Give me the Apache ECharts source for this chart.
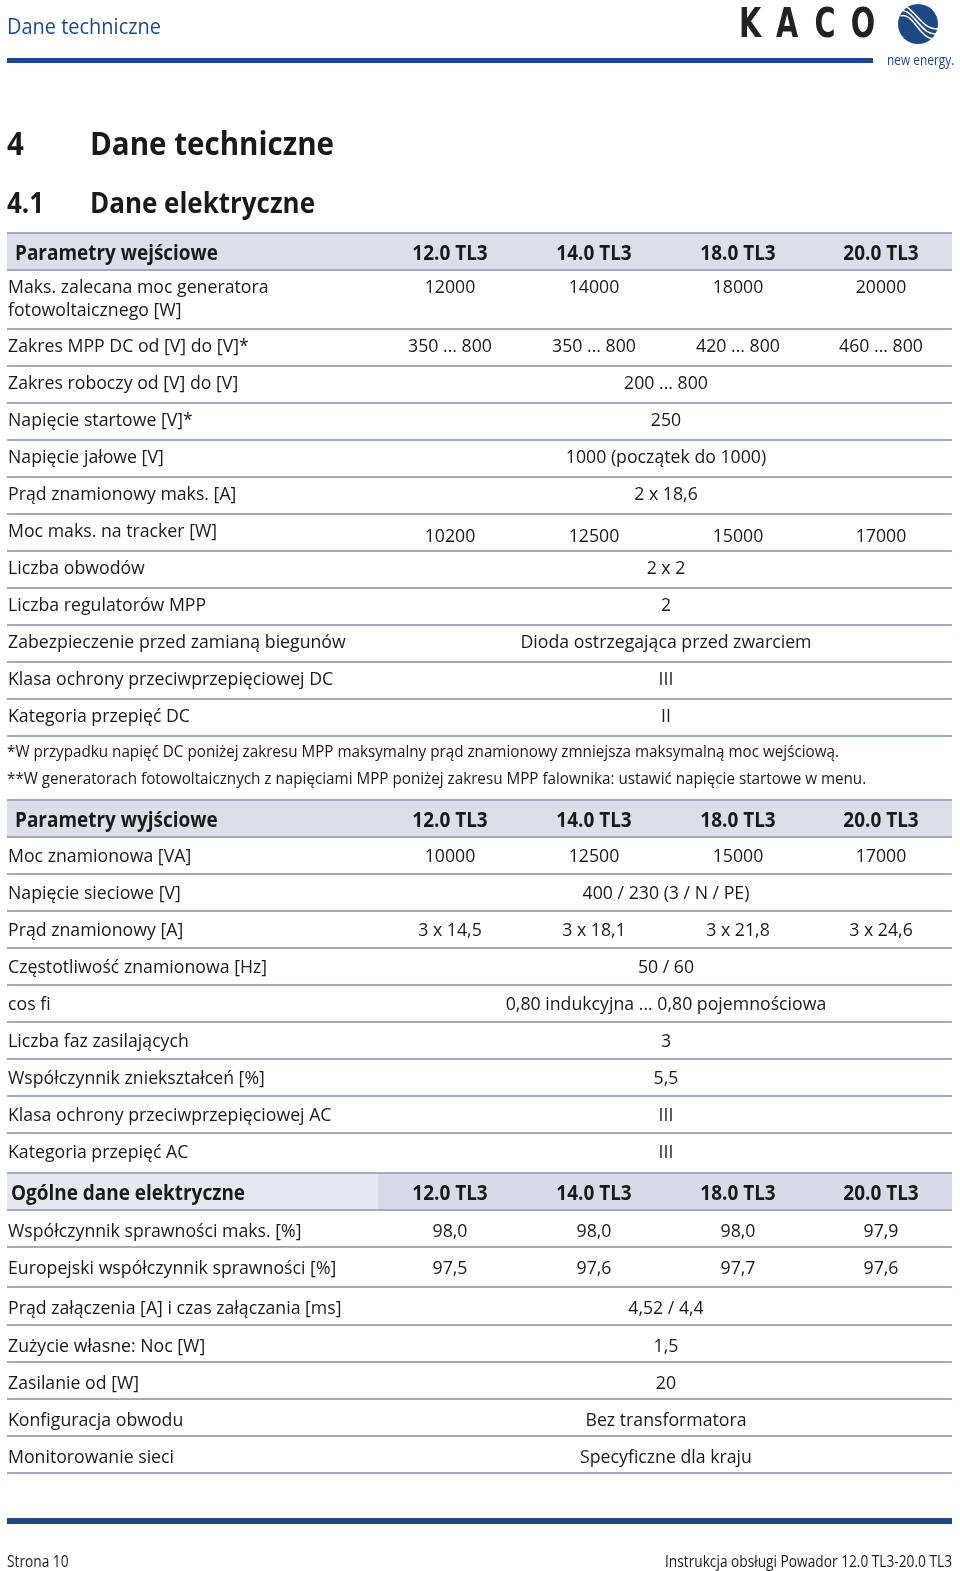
<!DOCTYPE html>
<html><head><meta charset="utf-8">
<script src="https://cdn.jsdelivr.net/npm/echarts@6/dist/echarts.min.js"></script>
<style>html,body{margin:0;padding:0;background:#fff}#c{width:960px;height:1571px}</style>
</head><body><div id="c"></div>
<script>
// ---------- DATA ----------
const models = ['12.0 TL3', '14.0 TL3', '18.0 TL3', '20.0 TL3'];
const sectionTitles = ['Parametry wejściowe', 'Parametry wyjściowe', 'Ogólne dane elektryczne'];
const inputLabels = ['Maks. zalecana moc generatora\nfotowoltaicznego [W]', 'Zakres MPP DC od [V] do [V]*', 'Zakres roboczy od [V] do [V]', 'Napięcie startowe [V]*', 'Napięcie jałowe [V]', 'Prąd znamionowy maks. [A]', 'Moc maks. na tracker [W]', 'Liczba obwodów', 'Liczba regulatorów MPP', 'Zabezpieczenie przed zamianą biegunów', 'Klasa ochrony przeciwprzepięciowej DC', 'Kategoria przepięć DC'];
const inputValues = [['12000', '14000', '18000', '20000'], ['350 ... 800', '350 ... 800', '420 ... 800', '460 ... 800'], '200 ... 800', '250', '1000 (początek do 1000)', '2 x 18,6', ['10200', '12500', '15000', '17000'], '2 x 2', '2', 'Dioda ostrzegająca przed zwarciem', 'III', 'II'];
const footnotes = ['*W przypadku napięć DC poniżej zakresu MPP maksymalny prąd znamionowy zmniejsza maksymalną moc wejściową.', '**W generatorach fotowoltaicznych z napięciami MPP poniżej zakresu MPP falownika: ustawić napięcie startowe w menu.'];
const outputLabels = ['Moc znamionowa [VA]', 'Napięcie sieciowe [V]', 'Prąd znamionowy [A]', 'Częstotliwość znamionowa [Hz]', 'cos fi', 'Liczba faz zasilających', 'Współczynnik zniekształceń [%]', 'Klasa ochrony przeciwprzepięciowej AC', 'Kategoria przepięć AC'];
const outputValues = [['10000', '12500', '15000', '17000'], '400 / 230 (3 / N / PE)', ['3 x 14,5', '3 x 18,1', '3 x 21,8', '3 x 24,6'], '50 / 60', '0,80 indukcyjna ... 0,80 pojemnościowa', '3', '5,5', 'III', 'III'];
const generalLabels = ['Współczynnik sprawności maks. [%]', 'Europejski współczynnik sprawności [%]', 'Prąd załączenia [A] i czas załączania [ms]', 'Zużycie własne: Noc [W]', 'Zasilanie od [W]', 'Konfiguracja obwodu', 'Monitorowanie sieci'];
const generalValues = [['98,0', '98,0', '98,0', '97,9'], ['97,5', '97,6', '97,7', '97,6'], '4,52 / 4,4', '1,5', '20', 'Bez transformatora', 'Specyficzne dla kraju'];
const pageHeader = 'Dane techniczne';
const chapter = ['4', 'Dane techniczne'];
const subChapter = ['4.1', 'Dane elektryczne'];
const footerLeft = 'Strona 10';
const footerRight = 'Instrukcja obsługi Powador 12.0 TL3-20.0 TL3';
const logoLetters = ['K', 'A', 'C', 'O'];
const logoTag = 'new energy.';

// ---------- LAYOUT ----------
const FAM = '"Open Sans", "Noto Sans", sans-serif';
const cv = document.createElement('canvas').getContext('2d');
function fitScale(font, ref, w) { cv.font = font; return w / cv.measureText(ref).width; }
const G = {
  body: { font: '18px ' + FAM, s: fitScale('18px ' + FAM, 'Kategoria przepięć DC', 182) },
  bold: { font: 'bold 21px ' + FAM, s: fitScale('bold 21px ' + FAM, 'Parametry wejściowe', 203) },
  note: { font: '16.5px ' + FAM, s: fitScale('16.5px ' + FAM, footnotes[0], 832) },
  foot: { font: '16px ' + FAM, s: fitScale('16px ' + FAM, footerRight, 287) },
  t1: { font: 'bold 32px ' + FAM, s: fitScale('bold 32px ' + FAM, chapter[1], 244) },
  t2: { font: 'bold 28px ' + FAM, s: fitScale('bold 28px ' + FAM, subChapter[1], 225) },
  top: { font: '21px ' + FAM, s: fitScale('21px ' + FAM, pageHeader, 154) }
};
const DY = 2; // baseline correction for the font's vertical metrics
const INK = '#1a1a1a', BLUE = '#1d4a85', LINE = '#a4aabd', BAND = '#dcdfea';
const L = 7, R = 952;
const colX = [450, 594, 738, 881];
const spanX = 666;

const g = [];
function txt(s, x, y, grp, align, fill) {
  g.push({
    type: 'text', x: x, y: y + DY, scaleX: G[grp].s, scaleY: 1, z: 10,
    style: { text: s, font: G[grp].font, fill: fill || INK, align: align || 'left', verticalAlign: 'middle', lineHeight: 23 }
  });
}
function rect(x, y, w, h, fill) { g.push({ type: 'rect', shape: { x: x, y: y, width: w, height: h }, style: { fill: fill }, z: 1 }); }
function hline(y, color, w) { g.push({ type: 'line', shape: { x1: L, y1: y, x2: R, y2: y }, style: { stroke: color || LINE, lineWidth: w || 2 }, z: 5 }); }

// header
txt(pageHeader, 7, 26, 'top', 'left', BLUE);
rect(7, 58, 866, 5, BLUE);
const logoX = [750, 787, 825, 863];
logoLetters.forEach((c, i) => g.push({ type: 'text', x: logoX[i], y: 26, scaleX: 0.7, style: { text: c, font: 'bold 41px "DejaVu Sans", sans-serif', fill: '#222', align: 'center', verticalAlign: 'middle' } }));
g.push({ type: 'circle', shape: { cx: 918, cy: 24, r: 20 }, style: { fill: BLUE } });
[-5, 0, 5].forEach(d => g.push({ type: 'bezierCurve', shape: { x1: 899 + d * 0.3, y1: 11 + d, cpx1: 914, cpy1: 6 + d, cpx2: 921, cpy2: 40 + d, x2: 940 - d * 0.3, y2: 33 + d }, style: { stroke: '#fff', lineWidth: 1.6, fill: null } }));
g.push({ type: 'text', x: 887, y: 61, scaleX: 0.85, style: { text: logoTag, font: '14px ' + FAM, fill: BLUE, align: 'left', verticalAlign: 'middle' } });

// titles
txt(chapter[0], 7, 144, 't1');
txt(chapter[1], 90, 144, 't1');
txt(subChapter[0], 7, 203, 't2');
txt(subChapter[1], 90, 203, 't2');

function section(top, title, labels, values, rowH, textOff, titleX, split, lastLine) {
  const bandH = 39;
  if (split) { rect(L, top, split - L, bandH, '#e6e8f0'); rect(split, top, R - split, bandH, '#d8dbe7'); }
  else rect(L, top, R - L, bandH, BAND);
  hline(top + 1); hline(top + bandH - 1);
  txt(title, titleX, top + bandH / 2 + 1, 'bold');
  models.forEach((m, i) => txt(m, colX[i], top + bandH / 2 + 1, 'bold', 'center'));
  let y = top + bandH;
  labels.forEach((lab, r) => {
    const h = rowH[r];
    const nl = lab.split('\n').length;
    txt(lab, 8, y + textOff + (nl - 1) * 11.5, 'body');
    const v = values[r];
    const vy = y + textOff + (lab.indexOf('tracker') >= 0 ? 5 : 0);
    if (Array.isArray(v)) v.forEach((s, i) => txt(s, colX[i], vy, 'body', 'center'));
    else txt(v, spanX, vy, 'body', 'center');
    y += h;
    if (r < labels.length - 1 || lastLine) hline(y - 1);
  });
  return y;
}
const rep = (n, v) => Array(n).fill(v);
section(232, sectionTitles[0], inputLabels, inputValues, [59].concat(rep(11, 37)), 15, 15, 0, true);
txt(footnotes[0], 7, 750, 'note');
txt(footnotes[1], 7, 777, 'note');
section(799, sectionTitles[1], outputLabels, outputValues, rep(9, 37), 17, 15, 0, false);
section(1172, sectionTitles[2], generalLabels, generalValues, [37, 40, 38, 37, 37, 37, 37], 19, 11, 378, true);

// footer
rect(7, 1518, 945, 6, BLUE);
txt(footerLeft, 7, 1560, 'foot');
txt(footerRight, 952, 1560, 'foot', 'right');

const chart = echarts.init(document.getElementById('c'), null, { renderer: 'canvas', width: 960, height: 1571 });
chart.setOption({ backgroundColor: '#fff', animation: false, graphic: { elements: g } });
</script></body></html>
